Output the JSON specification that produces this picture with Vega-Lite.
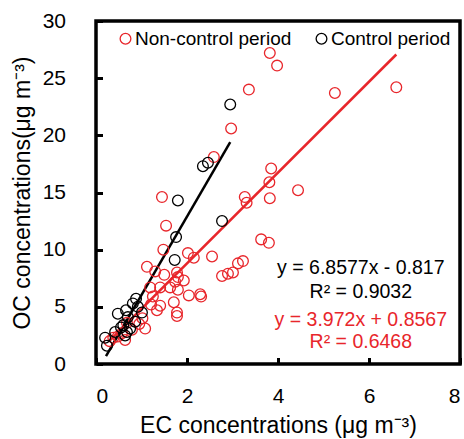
{
  "$schema": "https://vega.github.io/schema/vega-lite/v6.json",
  "width": 364,
  "height": 343,
  "autosize": {"type": "none"},
  "padding": {"left": 96, "top": 21, "right": 4, "bottom": 75},
  "config": {
    "font": "Liberation Sans",
    "view": {"stroke": "black", "strokeWidth": 3.5},
    "axis": {
      "grid": false,
      "domain": false,
      "ticks": true,
      "tickColor": "black",
      "tickWidth": 3,
      "tickSize": -6.5,
      "labelFont": "Liberation Sans",
      "labelFontSize": 21,
      "labelColor": "black",
      "titleFont": "Liberation Sans",
      "titleFontSize": 23,
      "titleFontWeight": "normal",
      "titleColor": "black"
    }
  },
  "datasets": {
    "pts": [
      {"EC": 3.82, "OC": 27.2, "period": "Non-control period"},
      {"EC": 3.98, "OC": 26.1, "period": "Non-control period"},
      {"EC": 3.36, "OC": 24.0, "period": "Non-control period"},
      {"EC": 5.25, "OC": 23.7, "period": "Non-control period"},
      {"EC": 6.6, "OC": 24.2, "period": "Non-control period"},
      {"EC": 2.97, "OC": 20.6, "period": "Non-control period"},
      {"EC": 2.59, "OC": 18.1, "period": "Non-control period"},
      {"EC": 1.45, "OC": 14.6, "period": "Non-control period"},
      {"EC": 3.27, "OC": 14.6, "period": "Non-control period"},
      {"EC": 3.31, "OC": 14.1, "period": "Non-control period"},
      {"EC": 3.85, "OC": 17.1, "period": "Non-control period"},
      {"EC": 3.81, "OC": 15.9, "period": "Non-control period"},
      {"EC": 4.44, "OC": 15.2, "period": "Non-control period"},
      {"EC": 3.82, "OC": 14.5, "period": "Non-control period"},
      {"EC": 1.54, "OC": 12.1, "period": "Non-control period"},
      {"EC": 3.63, "OC": 10.9, "period": "Non-control period"},
      {"EC": 3.8, "OC": 10.6, "period": "Non-control period"},
      {"EC": 1.48, "OC": 10.0, "period": "Non-control period"},
      {"EC": 2.02, "OC": 9.7, "period": "Non-control period"},
      {"EC": 2.15, "OC": 9.3, "period": "Non-control period"},
      {"EC": 2.55, "OC": 9.4, "period": "Non-control period"},
      {"EC": 1.12, "OC": 8.5, "period": "Non-control period"},
      {"EC": 1.3, "OC": 8.1, "period": "Non-control period"},
      {"EC": 1.5, "OC": 7.8, "period": "Non-control period"},
      {"EC": 1.78, "OC": 8.0, "period": "Non-control period"},
      {"EC": 1.8, "OC": 7.6, "period": "Non-control period"},
      {"EC": 1.93, "OC": 7.3, "period": "Non-control period"},
      {"EC": 1.74, "OC": 7.2, "period": "Non-control period"},
      {"EC": 2.77, "OC": 7.7, "period": "Non-control period"},
      {"EC": 2.9, "OC": 7.9, "period": "Non-control period"},
      {"EC": 3.01, "OC": 8.0, "period": "Non-control period"},
      {"EC": 3.12, "OC": 8.8, "period": "Non-control period"},
      {"EC": 3.23, "OC": 9.0, "period": "Non-control period"},
      {"EC": 1.19, "OC": 6.7, "period": "Non-control period"},
      {"EC": 1.41, "OC": 6.7, "period": "Non-control period"},
      {"EC": 1.63, "OC": 6.7, "period": "Non-control period"},
      {"EC": 1.8, "OC": 6.5, "period": "Non-control period"},
      {"EC": 2.04, "OC": 6.0, "period": "Non-control period"},
      {"EC": 2.29, "OC": 6.1, "period": "Non-control period"},
      {"EC": 2.31, "OC": 5.9, "period": "Non-control period"},
      {"EC": 1.25, "OC": 5.9, "period": "Non-control period"},
      {"EC": 1.21, "OC": 5.2, "period": "Non-control period"},
      {"EC": 1.41, "OC": 5.1, "period": "Non-control period"},
      {"EC": 1.34, "OC": 4.7, "period": "Non-control period"},
      {"EC": 1.71, "OC": 5.4, "period": "Non-control period"},
      {"EC": 1.78, "OC": 4.5, "period": "Non-control period"},
      {"EC": 1.78, "OC": 4.2, "period": "Non-control period"},
      {"EC": 1.08, "OC": 3.1, "period": "Non-control period"},
      {"EC": 0.38, "OC": 2.3, "period": "Non-control period"},
      {"EC": 0.48, "OC": 2.4, "period": "Non-control period"},
      {"EC": 0.64, "OC": 2.1, "period": "Non-control period"},
      {"EC": 0.79, "OC": 3.0, "period": "Non-control period"},
      {"EC": 0.57, "OC": 2.7, "period": "Non-control period"},
      {"EC": 0.68, "OC": 3.6, "period": "Non-control period"},
      {"EC": 0.3, "OC": 2.0, "period": "Non-control period"},
      {"EC": 0.95, "OC": 3.5, "period": "Non-control period"},
      {"EC": 1.02, "OC": 4.0, "period": "Non-control period"},
      {"EC": 2.95, "OC": 22.7, "period": "Control period"},
      {"EC": 2.35, "OC": 17.3, "period": "Control period"},
      {"EC": 2.46, "OC": 17.6, "period": "Control period"},
      {"EC": 1.8, "OC": 14.3, "period": "Control period"},
      {"EC": 2.77, "OC": 12.5, "period": "Control period"},
      {"EC": 1.76, "OC": 11.1, "period": "Control period"},
      {"EC": 1.73, "OC": 9.1, "period": "Control period"},
      {"EC": 0.88, "OC": 5.7, "period": "Control period"},
      {"EC": 0.81, "OC": 5.3, "period": "Control period"},
      {"EC": 0.92, "OC": 5.0, "period": "Control period"},
      {"EC": 1.01, "OC": 4.5, "period": "Control period"},
      {"EC": 0.66, "OC": 4.7, "period": "Control period"},
      {"EC": 0.48, "OC": 4.4, "period": "Control period"},
      {"EC": 0.7, "OC": 4.1, "period": "Control period"},
      {"EC": 0.86, "OC": 3.7, "period": "Control period"},
      {"EC": 0.55, "OC": 3.2, "period": "Control period"},
      {"EC": 0.68, "OC": 2.8, "period": "Control period"},
      {"EC": 0.64, "OC": 2.5, "period": "Control period"},
      {"EC": 0.42, "OC": 2.8, "period": "Control period"},
      {"EC": 0.2, "OC": 2.3, "period": "Control period"},
      {"EC": 0.24, "OC": 1.6, "period": "Control period"},
      {"EC": 0.6, "OC": 3.4, "period": "Control period"},
      {"EC": 0.75, "OC": 3.1, "period": "Control period"}
    ],
    "fits": [
      {"EC": 0.3, "OC": 2.05, "period": "Non-control period"},
      {"EC": 6.6, "OC": 27.07, "period": "Non-control period"},
      {"EC": 0.22, "OC": 0.69, "period": "Control period"},
      {"EC": 2.95, "OC": 19.41, "period": "Control period"}
    ],
    "labels": [
      {"EC": 5.82, "OC": 8.4, "period": "Control period", "label": "y = 6.8577x - 0.817"},
      {"EC": 5.82, "OC": 6.3, "period": "Control period", "label": "R² = 0.9032"},
      {"EC": 5.82, "OC": 3.85, "period": "Non-control period", "label": "y = 3.972x + 0.8567"},
      {"EC": 5.82, "OC": 1.92, "period": "Non-control period", "label": "R² = 0.6468"}
    ]
  },
  "layer": [
    {
      "data": {"name": "fits"},
      "transform": [{"filter": "datum.period === 'Non-control period'"}],
      "mark": {"type": "line", "color": "#e8262b", "strokeWidth": 2.5},
      "encoding": {
        "x": {"field": "EC", "type": "quantitative", "scale": {"domain": [0, 8], "nice": false}},
        "y": {"field": "OC", "type": "quantitative", "scale": {"domain": [0, 30], "nice": false}}
      }
    },
    {
      "data": {"name": "fits"},
      "transform": [{"filter": "datum.period === 'Control period'"}],
      "mark": {"type": "line", "color": "#000000", "strokeWidth": 2.5},
      "encoding": {
        "x": {"field": "EC", "type": "quantitative"},
        "y": {"field": "OC", "type": "quantitative"}
      }
    },
    {
      "data": {"name": "pts"},
      "mark": {"type": "point", "shape": "circle", "filled": false, "size": 115, "strokeWidth": 1.3, "opacity": 1},
      "encoding": {
        "x": {
          "field": "EC", "type": "quantitative",
          "axis": {"values": [0, 2, 4, 6, 8], "title": "EC concentrations (μg m⁻³)", "labelPadding": 28, "titlePadding": 8}
        },
        "y": {
          "field": "OC", "type": "quantitative",
          "axis": {"values": [0, 5, 10, 15, 20, 25, 30], "title": "OC concentrations(μg m⁻³)", "labelPadding": 37, "titlePadding": 8}
        },
        "color": {
          "field": "period", "type": "nominal",
          "scale": {"domain": ["Non-control period", "Control period"], "range": ["#e8262b", "#000000"]},
          "legend": {
            "orient": "none", "legendX": 20, "legendY": 8, "direction": "horizontal", "title": null,
            "labelFontSize": 19, "labelFont": "Liberation Sans", "labelColor": "black",
            "symbolType": "circle", "symbolSize": 115, "symbolStrokeWidth": 1.3, "symbolFillColor": "transparent",
            "labelOffset": 0, "columnPadding": 20, "padding": 0
          }
        }
      }
    },
    {
      "data": {"name": "labels"},
      "transform": [{"filter": "datum.period === 'Control period'"}],
      "mark": {"type": "text", "color": "#000000", "fontSize": 19.5, "align": "center", "baseline": "middle", "font": "Liberation Sans"},
      "encoding": {
        "x": {"field": "EC", "type": "quantitative"},
        "y": {"field": "OC", "type": "quantitative"},
        "text": {"field": "label"}
      }
    },
    {
      "data": {"name": "labels"},
      "transform": [{"filter": "datum.period === 'Non-control period'"}],
      "mark": {"type": "text", "color": "#e8262b", "fontSize": 19.5, "align": "center", "baseline": "middle", "font": "Liberation Sans"},
      "encoding": {
        "x": {"field": "EC", "type": "quantitative"},
        "y": {"field": "OC", "type": "quantitative"},
        "text": {"field": "label"}
      }
    }
  ]
}
